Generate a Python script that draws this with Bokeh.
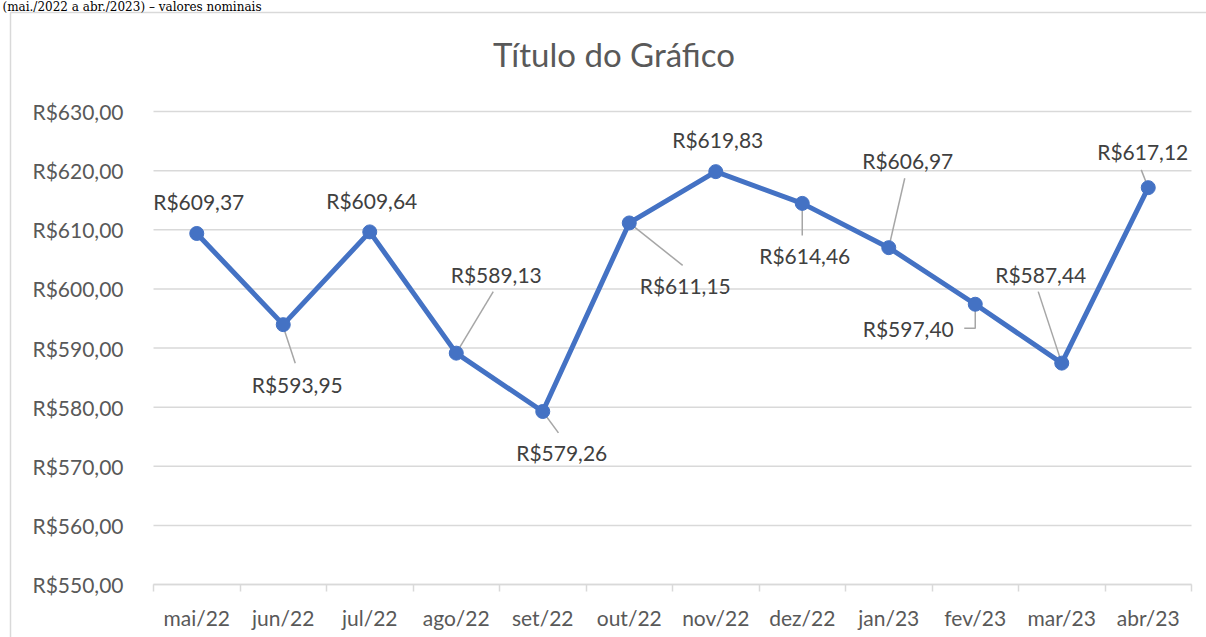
from bokeh.plotting import figure
from bokeh.models import Range1d, FixedTicker, ColumnDataSource
from bokeh.core.properties import value
from bokeh.embed import file_html
from bokeh.resources import INLINE

# ---------------- data ----------------
months = ["mai/22", "jun/22", "jul/22", "ago/22", "set/22", "out/22",
          "nov/22", "dez/22", "jan/23", "fev/23", "mar/23", "abr/23"]
values = [609.37, 593.95, 609.64, 589.13, 579.26, 611.15,
          619.83, 614.46, 606.97, 597.40, 587.44, 617.12]
value_labels = ["R$609,37", "R$593,95", "R$609,64", "R$589,13", "R$579,26", "R$611,15",
                "R$619,83", "R$614,46", "R$606,97", "R$597,40", "R$587,44", "R$617,12"]
y_ticks = [550, 560, 570, 580, 590, 600, 610, 620, 630]
y_tick_labels = ["R$550,00", "R$560,00", "R$570,00", "R$580,00", "R$590,00",
                 "R$600,00", "R$610,00", "R$620,00", "R$630,00"]
chart_title = "Título do Gráfico"
page_heading = "(mai./2022 a abr./2023) – valores nominais"

# ---------------- layout / style ----------------
W, H = 1206, 637
PL, PR, PT, PB = 153, 1191, 111, 584       # plot area in page pixels
FONT = "Lato"
# label offsets in pixels relative to the point (dx right, dy down)
lab_dx = [2, 14, 2, 40, 19, 56, 2, 2.5, 19, -67, -21, -5.5]
lab_dy = [-32, 60, -31, -79, 41, 63, -32, 52, -87, 24, -89, -36]
# leader line polylines (pixel offsets from the point)
leaders = {
    1: [(0, 2), (12, 38.6)],
    3: [(0, 0), (37, -61.5)],
    4: [(0, 0), (15.7, 21.4)],
    5: [(0, 0), (53.4, 42.4)],
    7: [(0, 0), (0, 32)],
    8: [(0, 0), (16, -69.4)],
    9: [(0, 0), (0, 24), (-11, 24)],
    10: [(0, 0), (-23.5, -71.5)],
    11: [(0, 0), (-7, -17.8)],
}
# page-pixel positions of decorations (text centres)
TITLE_X, TITLE_Y = 613.5, 53.5
HEAD_X, HEAD_Y = 2, 6.5
BORDER_L, BORDER_T = 10, 12

n = len(months)
xs = [i + 0.5 for i in range(n)]
ymin, ymax = y_ticks[0], y_ticks[-1]
px_x = (PR - PL) / n
px_y = (PB - PT) / (ymax - ymin)


def dx_(px):   # page x pixel -> data x
    return (px - PL) / px_x


def dy_(py):   # page y pixel -> data y
    return ymax + (PT - py) / px_y


p = figure(width=W, height=H, output_backend="svg", toolbar_location=None,
           x_range=Range1d(dx_(0), dx_(W)), y_range=Range1d(dy_(H), dy_(0)),
           min_border=0, min_border_left=0, min_border_right=0,
           min_border_top=0, min_border_bottom=0, outline_line_color=None)
p.background_fill_color = "white"
p.border_fill_color = "white"

# axes (fixed inside the canvas)
xa = p.xaxis[0]
xa.fixed_location = ymin
xa.bounds = (0, n)
xa.ticker = FixedTicker(ticks=xs, minor_ticks=list(range(n + 1)))
xa.major_label_overrides = {x: m for x, m in zip(xs, months)}
xa.major_tick_line_color = None
xa.major_tick_out = 0
xa.major_tick_in = 0
xa.minor_tick_line_color = "#d9d9d9"
xa.minor_tick_line_width = 1.5
xa.minor_tick_out = 7
xa.minor_tick_in = 0
xa.axis_line_color = "#d9d9d9"
xa.axis_line_width = 1.5
xa.major_label_standoff = 13
xa.major_label_text_font = FONT
xa.major_label_text_font_size = "21px"
xa.major_label_text_color = "#595959"

ya = p.yaxis[0]
ya.fixed_location = 0
ya.ticker = FixedTicker(ticks=y_ticks, minor_ticks=[])
ya.major_label_overrides = {t: l for t, l in zip(y_ticks, y_tick_labels)}
ya.axis_line_color = None
ya.major_tick_line_color = None
ya.major_tick_out = 0
ya.major_tick_in = 0
ya.minor_tick_line_color = None
ya.major_label_standoff = 30
ya.major_label_text_font = FONT
ya.major_label_text_font_size = "21px"
ya.major_label_text_color = "#595959"

p.xgrid.visible = False
p.ygrid.visible = False

# horizontal gridlines across the plot area
p.segment(x0=[0] * len(y_ticks), x1=[n] * len(y_ticks), y0=y_ticks, y1=y_ticks,
          line_color="#d9d9d9", line_width=1.5)

# chart border (only its top and left edges fall inside the page)
p.line([dx_(BORDER_L), dx_(BORDER_L), dx_(W + 50)],
       [dy_(H + 50), dy_(BORDER_T), dy_(BORDER_T)],
       line_color="#d9d9d9", line_width=1.5)

# leader lines
lx, ly = [], []
for i, pts in leaders.items():
    lx.append([xs[i] + dx / px_x for dx, dy in pts])
    ly.append([values[i] - dy / px_y for dx, dy in pts])
p.multi_line(lx, ly, line_color="#a6a6a6", line_width=1.5)

# series
p.line(xs, values, line_color="#4472C4", line_width=5, line_join="round")
p.scatter(xs, values, size=14, marker="circle", fill_color="#4472C4", line_color="#4472C4")

# data labels
src = ColumnDataSource(dict(x=xs, y=values, t=value_labels, dx=lab_dx, dy=lab_dy))
p.text(x="x", y="y", text="t", x_offset="dx", y_offset="dy", source=src,
       text_align="center", text_baseline="middle", text_font_size="21px",
       text_font=value(FONT), text_color="#404040")

# chart title
p.text(x=[dx_(TITLE_X)], y=[dy_(TITLE_Y)], text=[chart_title],
       text_align="center", text_baseline="middle", text_font=value(FONT),
       text_font_size="33px", text_color="#595959")
# page heading above the chart box
p.text(x=[dx_(HEAD_X)], y=[dy_(HEAD_Y)], text=[page_heading],
       text_align="left", text_baseline="middle", text_font=value("DejaVu Serif"),
       text_font_size="12px", text_color="#000000")

open("out.html", "w").write(file_html(p, INLINE))
